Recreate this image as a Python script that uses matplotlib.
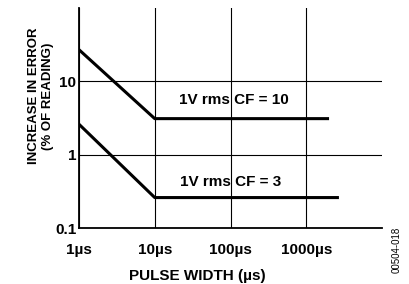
#!/usr/bin/env python3
import matplotlib

matplotlib.use("Agg")
import matplotlib.pyplot as plt

# pulse width (us) vs increase in error (% of reading)
cf10_width = [1, 10, 2000]
cf10_error = [27, 3.1, 3.1]
cf3_width = [1, 10, 2700]
cf3_error = [2.6, 0.26, 0.26]

x_ticks = [1, 10, 100, 1000]
x_tick_labels = ["1µs", "10µs", "100µs", "1000µs"]
y_ticks = [0.1, 1, 10]
y_tick_labels = ["0.1", "1", "10"]


def main():
    plt.rcParams["font.family"] = ["Liberation Sans", "DejaVu Sans"]
    plt.rcParams["font.weight"] = "bold"

    fig = plt.figure(figsize=(4.09, 2.84), dpi=100)
    ax = fig.add_axes([79 / 409, 1 - 228 / 284, (382 - 79) / 409, (228 - 8) / 284])

    ax.plot(cf10_width, cf10_error, color="black", linewidth=2.2, solid_capstyle="butt")
    ax.plot(cf3_width, cf3_error, color="black", linewidth=2.2, solid_capstyle="butt")

    ax.set_xscale("log")
    ax.set_yscale("log")
    ax.set_xlim(1, 10000)
    ax.set_ylim(0.1, 100)

    ax.set_xticks(x_ticks)
    ax.set_xticklabels(x_tick_labels, fontsize=11, fontweight="bold")
    ax.set_yticks(y_ticks)
    ax.set_yticklabels(y_tick_labels, fontsize=11, fontweight="bold")
    ax.minorticks_off()
    ax.tick_params(length=0)
    ax.tick_params(axis="x", pad=11)
    ax.tick_params(axis="y", pad=2)

    ax.grid(True, color="black", linewidth=0.8)
    ax.spines["top"].set_visible(False)
    ax.spines["right"].set_visible(False)
    for side in ("left", "bottom"):
        ax.spines[side].set_linewidth(1.3)

    ax.text(111, 5.6, "1V rms CF = 10", ha="center", va="center",
            fontsize=11, fontweight="bold")
    ax.text(100, 0.425, "1V rms CF = 3", ha="center", va="center",
            fontsize=11, fontweight="bold")

    ax.set_xlabel("PULSE WIDTH (µs)", fontsize=11, fontweight="bold")
    ax.xaxis.set_label_coords(0.39, -0.22)
    ax.xaxis.label.set_verticalalignment("center")
    ax.set_ylabel("INCREASE IN ERROR\n(% OF READING)", fontsize=9.5,
                  fontweight="bold", linespacing=1.2)
    ax.yaxis.set_label_coords(-0.082, 0.6)

    fig.text(397 / 409, 1 - 250 / 284, "00504-018", rotation=90, ha="center",
             va="center", fontsize=7, fontweight="normal")

    fig.savefig("out.png", dpi=100)
    plt.close(fig)


if __name__ == "__main__":
    main()
